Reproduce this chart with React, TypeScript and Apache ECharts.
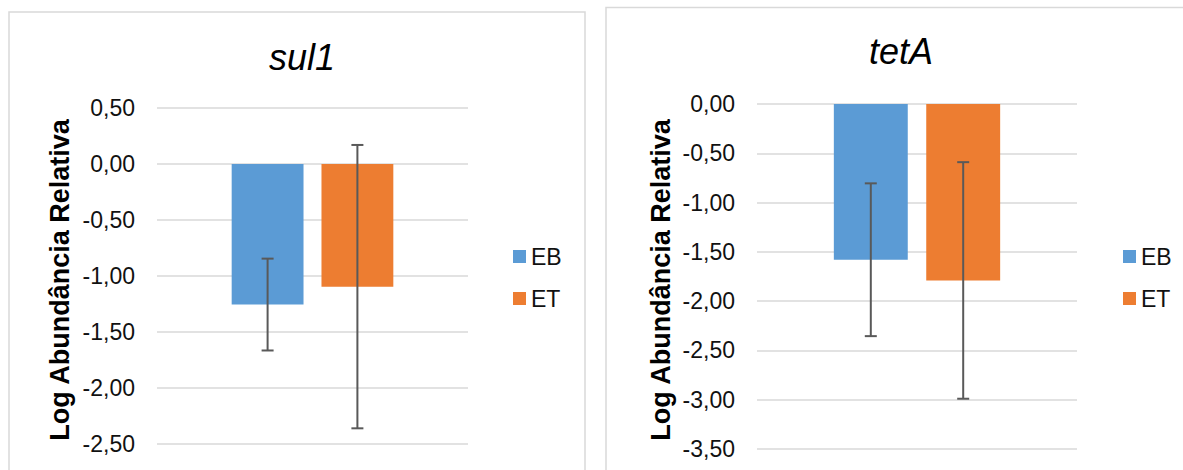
import React, { useEffect, useRef } from "react";
import * as echarts from "echarts";

const genes = ["sul1", "tetA"];
const seriesNames = ["EB", "ET"];
const sul1Means = [-1.255, -1.095];
const sul1Errors = [0.41, 1.265];
const tetAMeans = [-1.58, -1.79];
const tetAErrors = [0.775, 1.2];
const sul1Ticks = { min: -2.5, max: 0.5, step: 0.5 };
const tetATicks = { min: -3.5, max: 0, step: 0.5 };
const colors = ["#5B9BD5", "#ED7D31"];

const FONT = "'Liberation Sans', Arial, Helvetica, sans-serif";
const BAR_RATIO = 0.231;
const BAR_GAP = 0.25;

const fmt = (v: number) => {
  const s = Math.abs(v) < 1e-9 ? "0.00" : v.toFixed(2);
  return s.replace(".", ",");
};

export default function App() {
  const ref = useRef<HTMLDivElement>(null);
  useEffect(() => {
    if (!ref.current) return;
    const chart = echarts.init(ref.current, null, { renderer: "svg" });

    const means = [sul1Means, tetAMeans];
    const errs = [sul1Errors, tetAErrors];
    const ticks = [sul1Ticks, tetATicks];
    const grids = [
      { left: 157, top: 108, width: 311, height: 336 },
      { left: 757, top: 104, width: 320, height: 345 },
    ];

    const barSeries: any[] = [];
    const errSeries: any[] = [];
    genes.forEach((g, gi) => {
      seriesNames.forEach((name, si) => {
        barSeries.push({
          type: "bar",
          name,
          xAxisIndex: gi,
          yAxisIndex: gi,
          barWidth: (BAR_RATIO * 100).toFixed(1) + "%",
          barGap: BAR_GAP * 100 + "%",
          itemStyle: { color: colors[si] },
          data: [means[gi][si]],
          z: 2,
        });
      });
      errSeries.push({
        type: "custom",
        name: g + "-err",
        xAxisIndex: gi,
        yAxisIndex: gi,
        clip: false,
        z: 5,
        renderItem: (params: any, api: any) => {
          const cat = api.value(0);
          const mean = api.value(1);
          const err = api.value(2);
          const k = api.value(3);
          const center = api.coord([cat, mean]);
          const band = api.size([1, 0])[0];
          const bw = band * BAR_RATIO;
          const x = center[0] + (k === 0 ? -1 : 1) * (bw * (1 + BAR_GAP)) / 2;
          const yTop = api.coord([cat, mean + err])[1];
          const yBot = api.coord([cat, mean - err])[1];
          const style = { stroke: "#595959", lineWidth: 2 };
          const cap = 6;
          return {
            type: "group",
            children: [
              { type: "line", shape: { x1: x, y1: yTop, x2: x, y2: yBot }, style },
              { type: "line", shape: { x1: x - cap, y1: yTop, x2: x + cap, y2: yTop }, style },
              { type: "line", shape: { x1: x - cap, y1: yBot, x2: x + cap, y2: yBot }, style },
            ],
          };
        },
        data: seriesNames.map((_, si) => [0, means[gi][si], errs[gi][si], si]),
      });
    });

    const legendCommon = {
      orient: "vertical",
      top: 240,
      itemWidth: 13,
      itemHeight: 13,
      itemGap: 19,
      icon: "rect",
      selectedMode: false,
      data: seriesNames,
      textStyle: { fontFamily: FONT, fontSize: 23, color: "#111" },
    };

    const axisTitle = (x: number) => ({
      type: "text",
      x,
      y: 280,
      rotation: Math.PI / 2,
      style: {
        text: "Log Abundância Relativa",
        font: "bold 27px " + FONT,
        fill: "#000",
        textAlign: "center",
        textVerticalAlign: "middle",
      },
    });

    const option: any = {
      animation: false,
      backgroundColor: "#ffffff",
      textStyle: { fontFamily: FONT },
      title: [
        {
          text: genes[0],
          left: 297,
          top: 34,
          textAlign: "center",
          textStyle: { fontFamily: FONT, fontStyle: "italic", fontWeight: "normal", fontSize: 36, color: "#000" },
        },
        {
          text: genes[1],
          left: 896,
          top: 28,
          textAlign: "center",
          textStyle: { fontFamily: FONT, fontStyle: "italic", fontWeight: "normal", fontSize: 36, color: "#000" },
        },
      ],
      legend: [
        { ...legendCommon, left: 508 },
        { ...legendCommon, left: 1118 },
      ],
      grid: grids,
      xAxis: genes.map((g, gi) => ({
        type: "category",
        gridIndex: gi,
        data: [g],
        axisLine: { show: false },
        axisTick: { show: false },
        axisLabel: { show: false },
      })),
      yAxis: ticks.map((t, gi) => ({
        type: "value",
        gridIndex: gi,
        min: t.min,
        max: t.max,
        interval: t.step,
        axisLine: { show: false },
        axisTick: { show: false },
        axisLabel: {
          formatter: fmt,
          fontFamily: FONT,
          fontSize: 23,
          color: "#111",
          margin: 22,
        },
        splitLine: { lineStyle: { color: "#D9D9D9", width: 1.5 } },
      })),
      graphic: [
        {
          type: "rect",
          shape: { x: 9, y: 12, width: 576, height: 520 },
          style: { fill: "none", stroke: "#D9D9D9", lineWidth: 1.5 },
          silent: true,
        },
        {
          type: "rect",
          shape: { x: 606, y: 7.5, width: 620, height: 520 },
          style: { fill: "none", stroke: "#D9D9D9", lineWidth: 1.5 },
          silent: true,
        },
        axisTitle(60),
        axisTitle(661),
      ],
      series: [...barSeries, ...errSeries],
    };
    chart.setOption(option);
    return () => chart.dispose();
  }, []);

  return (
    <div
      ref={ref}
      style={{ position: "fixed", left: 0, top: 0, width: 1183, height: 470, background: "#fff" }}
    />
  );
}
